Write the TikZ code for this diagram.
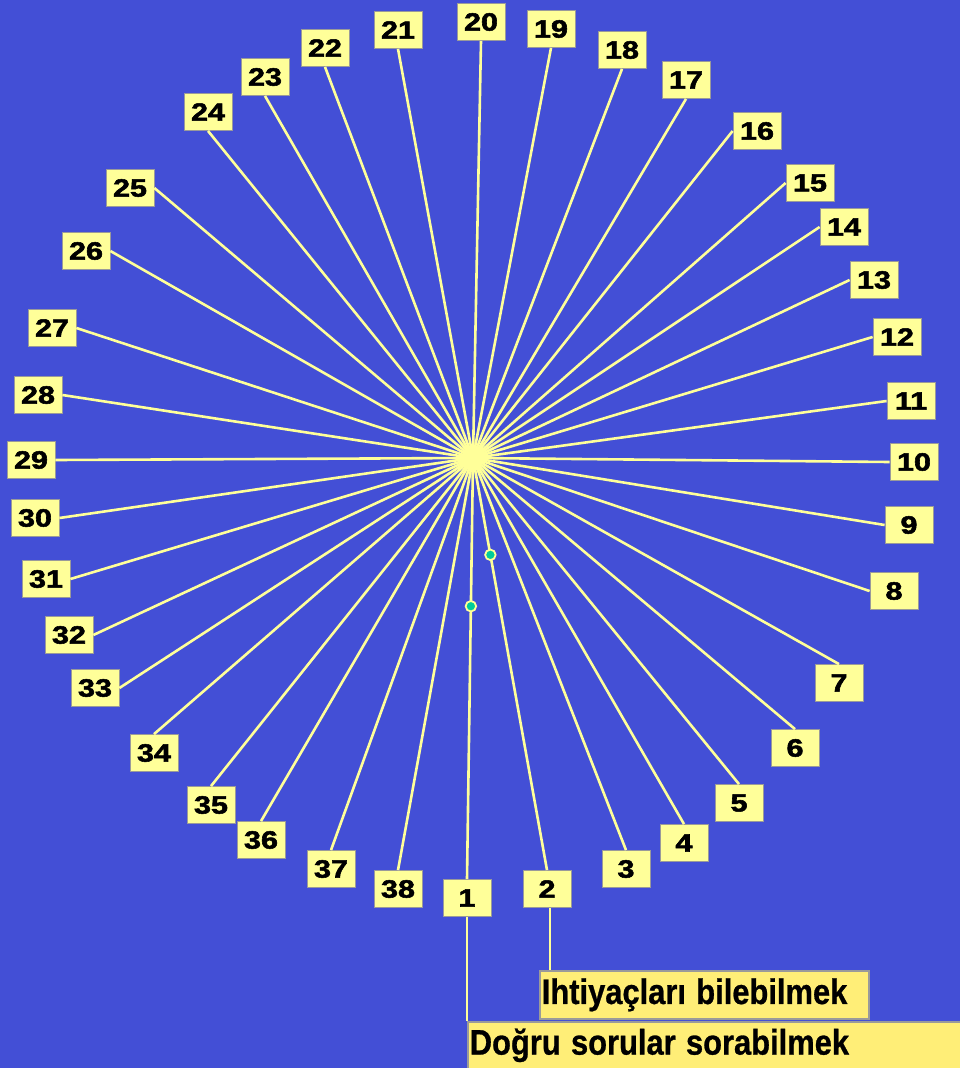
\documentclass[tikz,border=0pt]{standalone}
\usepackage{fontspec}
\setmainfont{Liberation Sans}
\newfontfamily\numfont[FakeBold=2]{Liberation Sans Bold}
\newfontfamily\txtfont[FakeBold=0.8]{Liberation Sans Bold}
\usepackage{graphicx}
\definecolor{bg}{HTML}{434FD6}
\definecolor{ly}{HTML}{FFFF99}
\definecolor{ty}{HTML}{FFEE77}
\definecolor{dotcol}{HTML}{00CC99}
\definecolor{bgray}{HTML}{9A9A9A}
\begin{document}
\begin{tikzpicture}[x=1pt,y=-1pt,
  numbox/.style={draw=bgray, line width=0.8pt, fill=ly, minimum width=48pt, minimum height=37pt, inner sep=0pt, font=\fontsize{25}{28}\numfont},
  ray/.style={draw=ly, line width=2.6pt},
  tbox/.style={draw=bgray, line width=1.6pt, fill=ty, inner xsep=2pt, inner ysep=0pt, align=left, font=\fontsize{35.5}{40}\txtfont},
  dotn/.style={circle, fill=dotcol, draw=ly, line width=1.8pt, minimum size=10.5pt, inner sep=0pt}]
\fill[bg] (0,0) rectangle (960,1068);
\useasboundingbox (0,0) rectangle (960,1068);
\coordinate (c) at (473,458);
\foreach \n/\x/\y in {1/467/898, 2/547/889, 3/626/869, 4/684/843, 5/739/803, 6/795/748, 7/839/683,
  8/894/591, 9/909/525, 10/914/462, 11/911/401, 12/897/337, 13/874/280, 14/844/227, 15/810/183,
  16/757/131, 17/686/80, 18/622/50, 19/551/29, 20/481/22, 21/398/30, 22/325/48, 23/265/77, 24/208/112,
  25/130/188, 26/86/251, 27/52/328, 28/38/395, 29/31/460, 30/35/518, 31/46/579, 32/69/635, 33/95/688,
  34/154/753, 35/211/805, 36/261/840, 37/331/869, 38/398/889}
  \node[numbox] (b\n) at (\x,\y) {\scalebox{1.22}[1]{\n}};
\foreach \n/\a in {1/north, 2/north, 3/north, 4/north, 5/north, 6/north, 7/north,
  8/west, 9/west, 10/west, 11/west, 12/west, 13/west, 14/west, 15/west, 16/west,
  17/south, 18/south, 19/south, 20/south, 21/south, 22/south, 23/south, 24/south,
  25/east, 26/east, 27/east, 28/east, 29/east, 30/east, 31/east, 32/east, 33/east,
  34/north, 35/north, 36/north, 37/north, 38/north}
  \draw[ray] (c) -- (b\n.\a);
\node[tbox, anchor=north west, minimum height=47pt, text width=520pt] (dog) at (467,1021)
  {\scalebox{0.87}[1]{Doğru sorular sorabilmek}};
\node[tbox, anchor=north west, minimum height=48pt, text width=325pt] (iht) at (539,970)
  {\scalebox{0.87}[1]{Ihtiyaçları bilebilmek}};
\draw[ray, line width=2.2pt] (b1.south) -- (b1.south |- dog.north);
\draw[ray, line width=2.2pt] ([xshift=3pt]b2.south) -- ([xshift=3pt]b2.south |- iht.north);
\path (c) -- (b1.north) node[dotn, pos=0.352] (d1) {};
\path (c) -- (b2.north) node[dotn, pos=0.235] (d2) {};
\end{tikzpicture}
\end{document}
